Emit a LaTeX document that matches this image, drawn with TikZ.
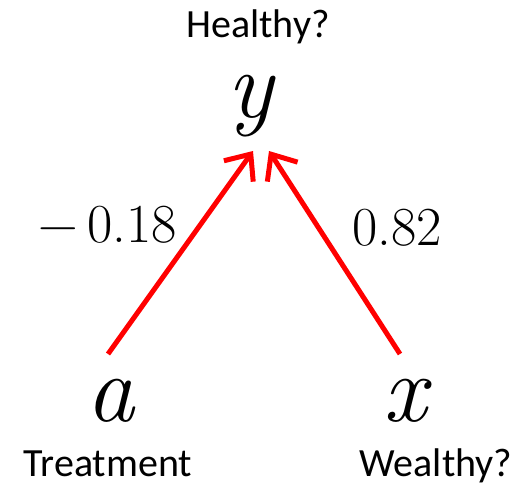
\documentclass[tikz,border=0pt]{standalone}
\usepackage{fontspec}
\newfontfamily\lblfont{Carlito}
\usepackage{xcolor}
\definecolor{arrowred}{HTML}{FF0000}
\usetikzlibrary{arrows.meta}

\begin{document}
\begin{tikzpicture}[
  x=1pt,y=-1pt,
  var/.style={inner sep=0pt,anchor=base,text height=0.45em,text depth=0.2em,
              font=\rmfamily\itshape\fontsize{96}{96}\selectfont},
  lbl/.style={inner sep=0pt,anchor=base,font=\lblfont\fontsize{40}{42}\selectfont},
  coef/.style={inner sep=0pt,anchor=base,font=\rmfamily\fontsize{55}{58}\selectfont},
  edge/.style={arrowred,line width=5pt,-{Straight Barb[length=21pt,width=36pt,line width=5pt]}}
]
  \useasboundingbox (0,0) rectangle (521,485);
  % variables
  \node[var] (y) at (250,117) {y};
  \node[var] (a) at (110,421) {a};
  \node[var] (x) at (405,421) {x};
  % labels
  \node[lbl] (hy) at (258,37) {Healthy?};
  \node[lbl] (tr) at (108,476) {Treatment};
  \node[lbl] (we) at (436,476) {Wealthy?};
  % arrows
  \coordinate (ta) at (108,354);
  \coordinate (ha) at (253,151);
  \coordinate (tx) at (400,354);
  \coordinate (hx) at (269,151);
  \draw[edge] (ta) -- (ha);
  \draw[edge] (tx) -- (hx);
  % weights
  \node[coef] (wa) at (108,242) {−\,0.18};
  \node[coef] (wx) at (397,245) {0.82};
\end{tikzpicture}
\end{document}
